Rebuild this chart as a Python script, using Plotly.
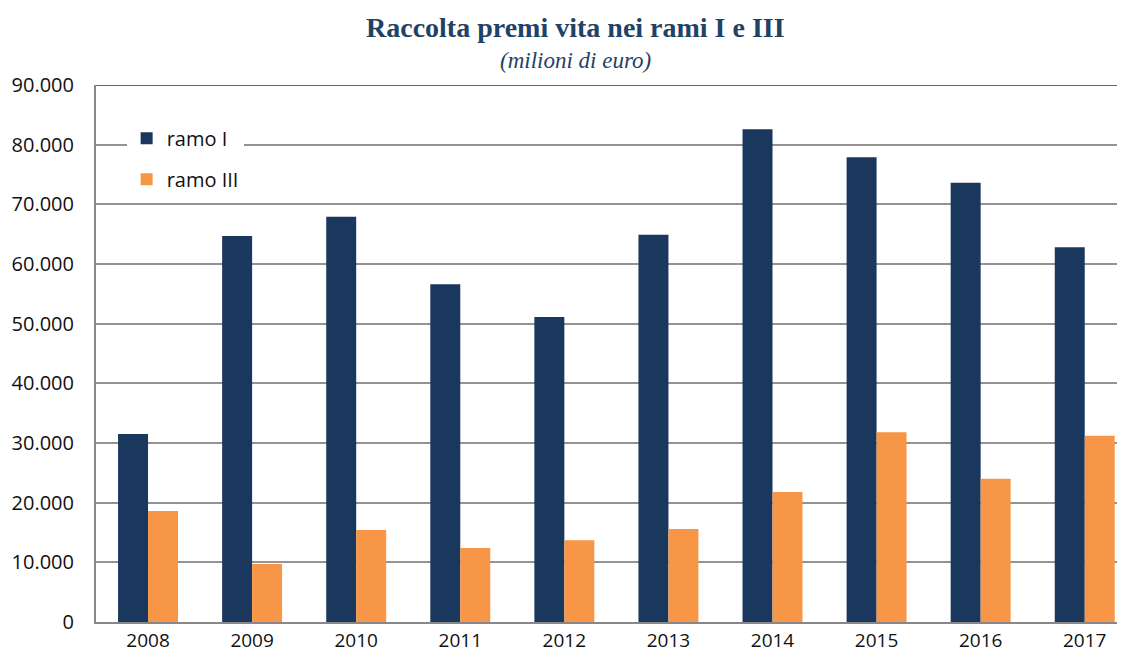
import plotly.graph_objects as go

anni = ['2008', '2009', '2010', '2011', '2012', '2013', '2014', '2015', '2016', '2017']
ramo_1 = [31500, 64700, 67900, 56600, 51100, 64900, 82600, 77900, 73600, 62800]
ramo_3 = [18600, 9700, 15400, 12400, 13700, 15600, 21800, 31800, 24000, 31200]
y_ticks = [0, 10000, 20000, 30000, 40000, 50000, 60000, 70000, 80000, 90000]

blu = '#1A375E'
arancio = '#F79646'

fig = go.Figure()
fig.add_trace(go.Bar(x=anni, y=ramo_1, name='ramo I', legendgroup='a',
                     marker=dict(color=blu, line=dict(width=0))))
fig.add_trace(go.Bar(x=anni, y=ramo_3, name='ramo III', legendgroup='b',
                     marker=dict(color=arancio, line=dict(width=0))))

# linea scura in alto (bordo a 90.000)
fig.add_shape(type='line', xref='paper', x0=0, x1=1, yref='y', y0=90000, y1=90000,
              line=dict(color='#333333', width=1.5))

# titolo e sottotitolo
fig.add_annotation(text='<b>Raccolta premi vita nei rami I e III</b>',
                   xref='paper', yref='paper', x=0.47, y=1.0 + 58 / 537,
                   xanchor='center', yanchor='middle', showarrow=False,
                   font=dict(family='Liberation Serif, DejaVu Serif, serif', size=28, color='#1F4266'))
fig.add_annotation(text='<i>(milioni di euro)</i>',
                   xref='paper', yref='paper', x=0.47, y=1.0 + 25 / 537,
                   xanchor='center', yanchor='middle', showarrow=False,
                   font=dict(family='Liberation Serif, DejaVu Serif, serif', size=23, color='#1F4266'))

# la pagina ha un margine di 8px: figura ridotta di 16px
fig.update_layout(
    width=1109, height=645,
    margin=dict(l=88, r=0, t=77, b=31),
    paper_bgcolor='white', plot_bgcolor='white',
    separators=',.',
    barmode='group', bargap=0.424, bargroupgap=0,
    font=dict(family='Open Sans, Liberation Sans, sans-serif', size=20, color='#111111'),
    legend=dict(x=0.03, y=0.937, xanchor='left', yanchor='top',
                bgcolor='white', traceorder='grouped', tracegroupgap=12,
                font=dict(size=20), itemsizing='constant'),
    xaxis=dict(range=[-0.5, 9.31], showline=True, linecolor='#888888', linewidth=2,
               ticks='', ticklabelstandoff=0, tickfont=dict(size=19),
               showgrid=False, automargin=False),
    yaxis=dict(range=[0, 90000], tickvals=y_ticks, tickformat=',d',
               showline=True, linecolor='#888888', linewidth=2,
               gridcolor='#939393', gridwidth=1.5, ticks='',
               ticklabelstandoff=16, zeroline=False, automargin=False),
)

fig.write_html('out.html')
